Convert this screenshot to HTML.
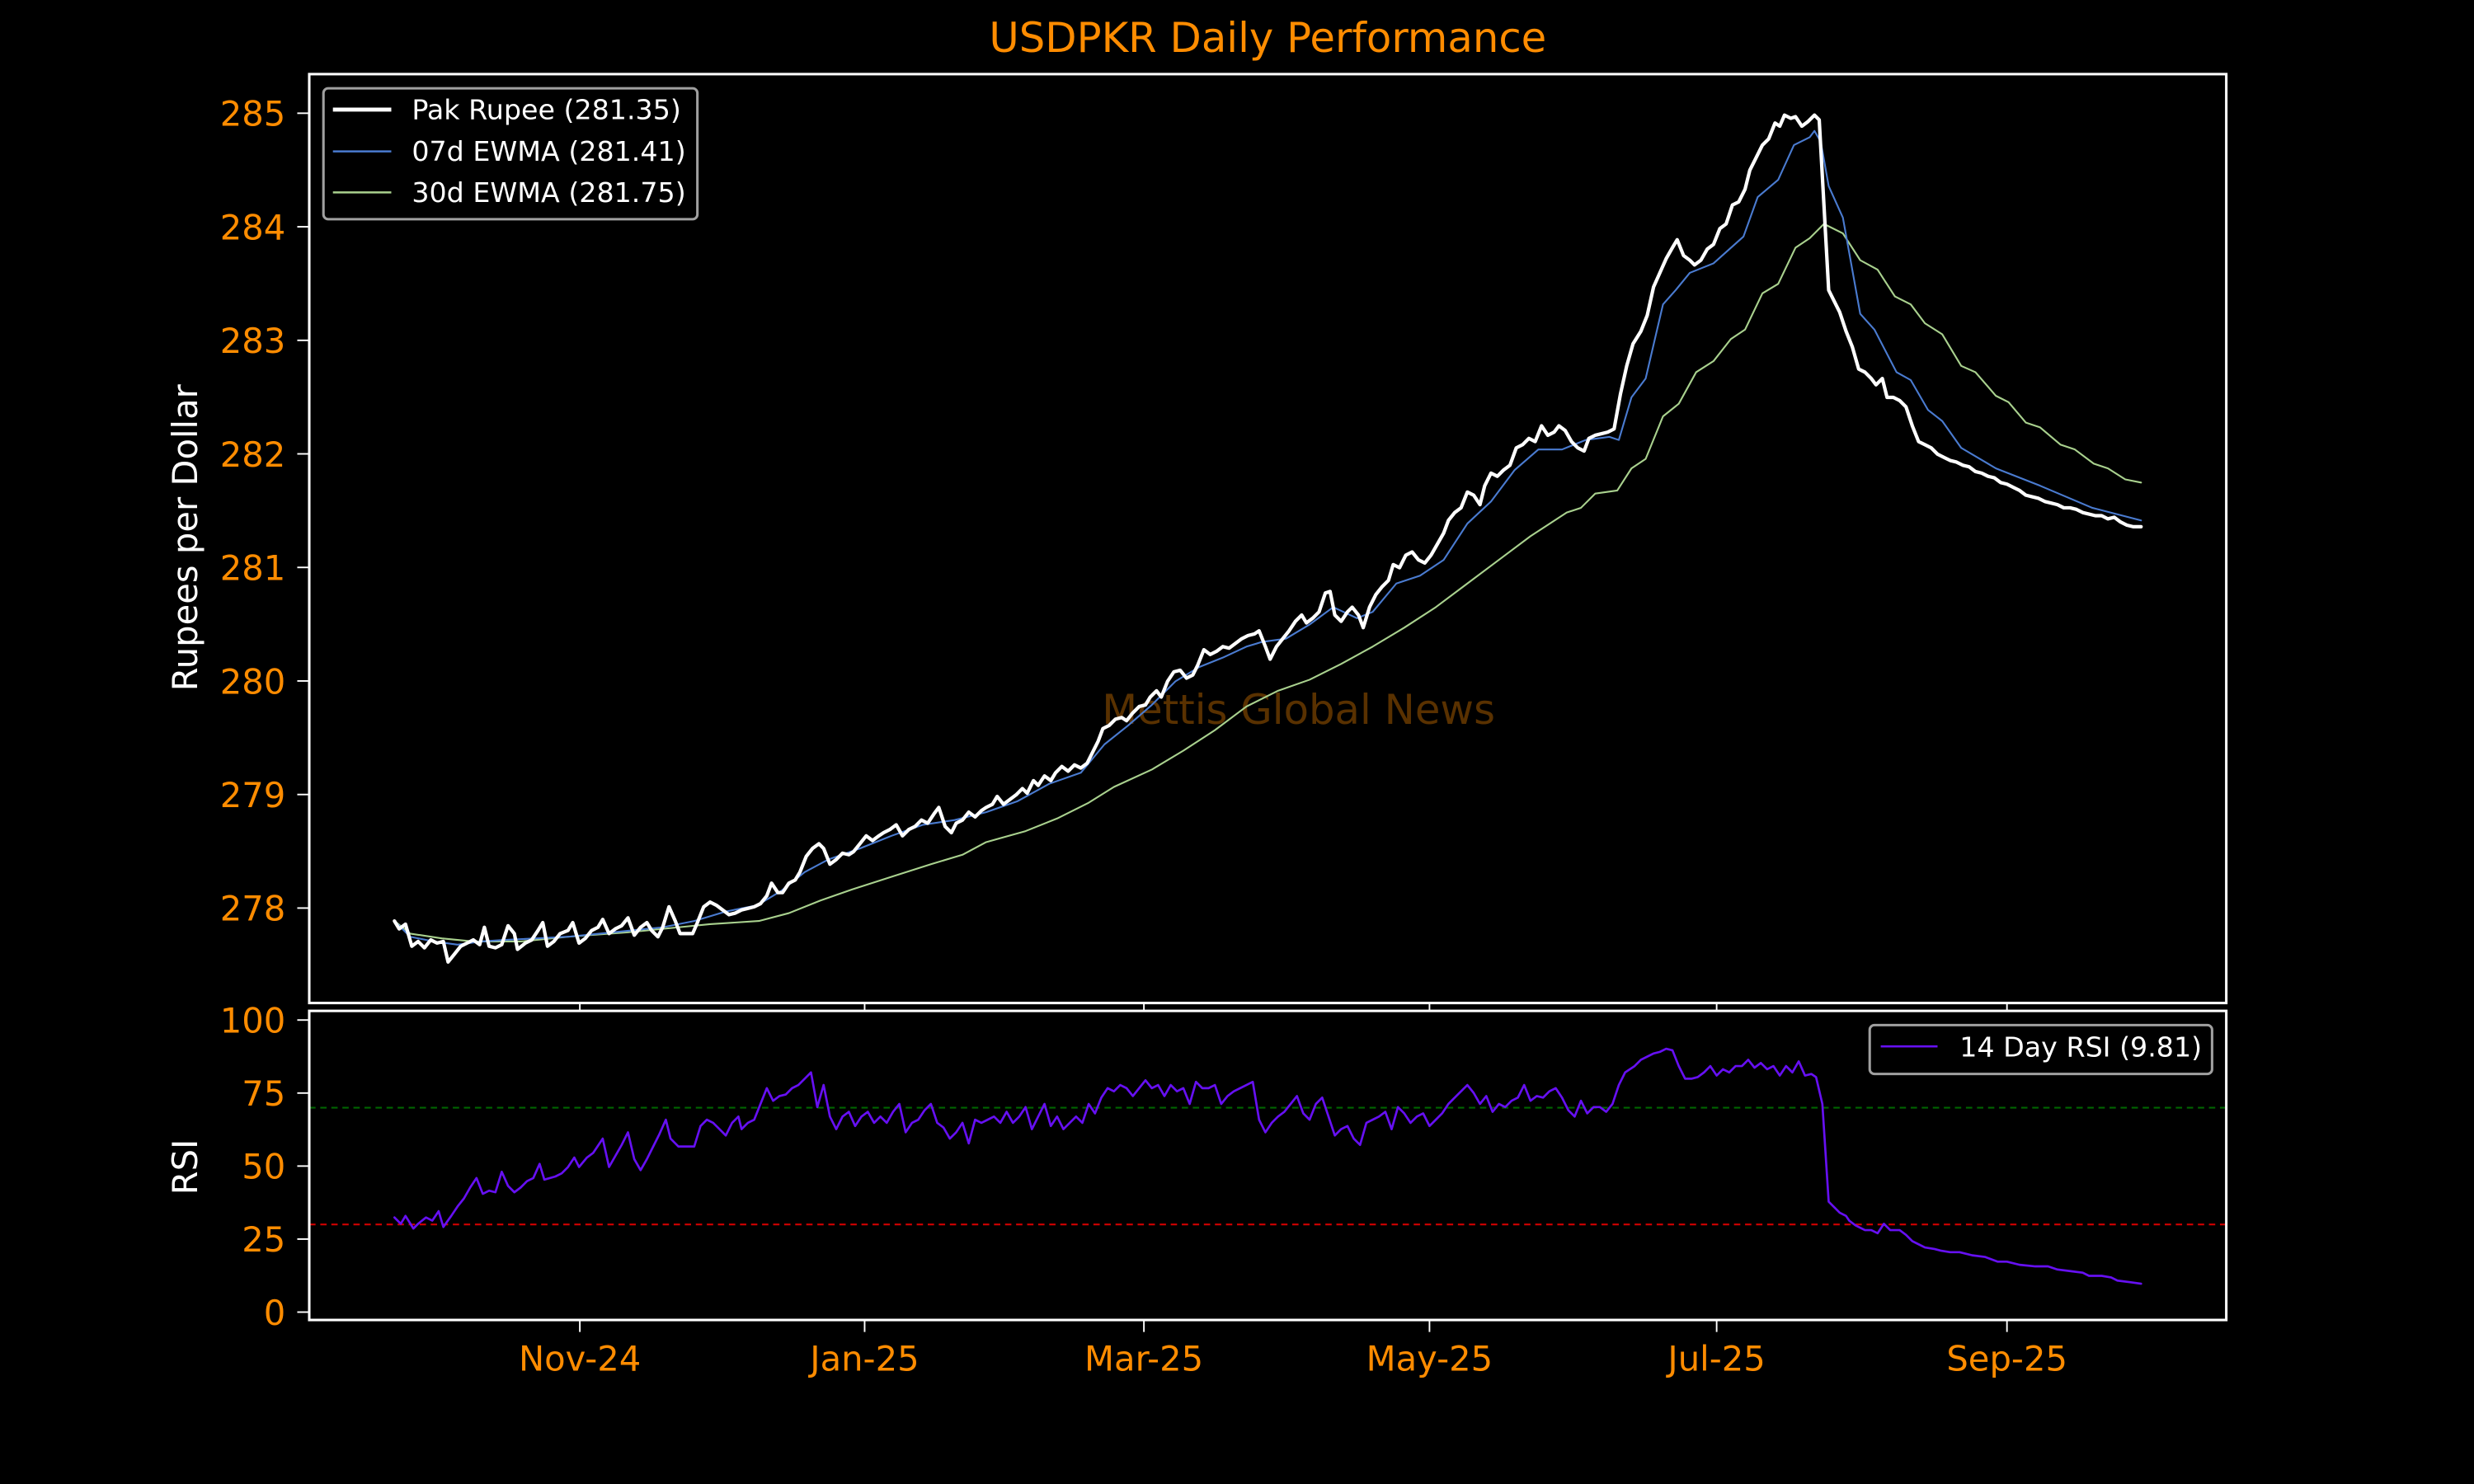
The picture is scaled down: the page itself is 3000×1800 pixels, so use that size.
<!DOCTYPE html>
<html><head><meta charset="utf-8"><style>html,body{margin:0;padding:0;background:#000;}svg{display:block;}</style></head>
<body>
<svg width="3000" height="1800" viewBox="0 0 1568 941" preserveAspectRatio="none" xmlns="http://www.w3.org/2000/svg" font-family="'DejaVu Sans','Liberation Sans',sans-serif">
<rect x="0" y="0" width="1568" height="941" fill="#000"/>
<text x="803.5" y="33" fill="#ff8c00" font-size="26" text-anchor="middle">USDPKR Daily Performance</text>
<text x="823" y="459" fill="#ff8c00" fill-opacity="0.35" font-size="26" text-anchor="middle">Mettis Global News</text>
<g stroke="#fff" stroke-width="1" fill="none">
<line x1="188.4" y1="71.8" x2="196" y2="71.8"/><line x1="188.4" y1="143.8" x2="196" y2="143.8"/><line x1="188.4" y1="215.8" x2="196" y2="215.8"/><line x1="188.4" y1="287.8" x2="196" y2="287.8"/><line x1="188.4" y1="359.8" x2="196" y2="359.8"/><line x1="188.4" y1="431.8" x2="196" y2="431.8"/><line x1="188.4" y1="503.8" x2="196" y2="503.8"/><line x1="188.4" y1="575.8" x2="196" y2="575.8"/>
<line x1="188.4" y1="646.8" x2="196" y2="646.8"/><line x1="188.4" y1="693.1" x2="196" y2="693.1"/><line x1="188.4" y1="739.4" x2="196" y2="739.4"/><line x1="188.4" y1="785.7" x2="196" y2="785.7"/><line x1="188.4" y1="832" x2="196" y2="832"/>
<line x1="367.5" y1="636" x2="367.5" y2="641"/><line x1="548" y1="636" x2="548" y2="641"/><line x1="725" y1="636" x2="725" y2="641"/><line x1="906" y1="636" x2="906" y2="641"/><line x1="1088" y1="636" x2="1088" y2="641"/><line x1="1272" y1="636" x2="1272" y2="641"/>
<line x1="367.5" y1="837" x2="367.5" y2="844.6"/><line x1="548" y1="837" x2="548" y2="844.6"/><line x1="725" y1="837" x2="725" y2="844.6"/><line x1="906" y1="837" x2="906" y2="844.6"/><line x1="1088" y1="837" x2="1088" y2="844.6"/><line x1="1272" y1="837" x2="1272" y2="844.6"/>
</g>
<g fill="#ff8c00" font-size="21.8" text-anchor="end">
<text x="181" y="79.8">285</text><text x="181" y="151.8">284</text><text x="181" y="223.8">283</text><text x="181" y="295.8">282</text><text x="181" y="367.8">281</text><text x="181" y="439.8">280</text><text x="181" y="511.8">279</text><text x="181" y="583.8">278</text>
<text x="181" y="654.8">100</text><text x="181" y="701.1">75</text><text x="181" y="747.4">50</text><text x="181" y="793.7">25</text><text x="181" y="840">0</text>
</g>
<g fill="#ff8c00" font-size="21.8" text-anchor="middle">
<text x="367.5" y="869">Nov-24</text><text x="548" y="869">Jan-25</text><text x="725" y="869">Mar-25</text><text x="906" y="869">May-25</text><text x="1088" y="869">Jul-25</text><text x="1272" y="869">Sep-25</text>
</g>
<text transform="translate(125,341) rotate(-90)" fill="#fff" font-size="21.8" text-anchor="middle">Rupees per Dollar</text>
<text transform="translate(125,740) rotate(-90)" fill="#fff" font-size="21.8" text-anchor="middle">RSI</text>
<line x1="196" y1="702.4" x2="1411" y2="702.4" stroke="#006400" stroke-width="1.1" stroke-dasharray="4,3"/>
<line x1="196" y1="776.4" x2="1411" y2="776.4" stroke="#d00000" stroke-width="1.1" stroke-dasharray="4,3"/>
<g fill="none" stroke-linejoin="round" stroke-linecap="round">
<polyline stroke="#a9d18e" stroke-width="1.1" points="250,584 260,592 280,595 300,597 330,597 360,594 400,591 430,588 450,586 481,584 500,579 520,571 540,564 565,556 590,548 610,542 625,534 650,527 670,519 690,509 706,499 730,488 750,476 770,463 790,448 810,438 830,431 850,421 870,410 890,398 910,385 930,370 950,355 970,340 993,325 1002,322 1011,313 1025,311 1034,297 1043,291 1054,264 1064,256 1075,236 1086,229 1097,215 1106,209 1117,186 1127,180 1138,157 1147,151 1156,142 1168,148 1179,165 1190,171 1201,188 1211,193 1220,205 1231,212 1243,232 1252,236 1265,251 1273,255 1284,268 1293,271 1306,282 1315,285 1327,294 1336,297 1347,304 1357,306"/>
<polyline stroke="#4a7bd0" stroke-width="1.1" points="250,584 260,594 275,597 290,599 305,597 320,596 340,595 360,594 380,592 400,590 420,588 440,584 460,578 480,574 495,565 510,553 525,545 545,538 565,530 585,523 605,520 625,515 645,508 665,497 685,490 700,472 715,460 730,447 745,432 760,423 775,417 790,410 800,407 815,405 830,396 845,385 860,392 870,388 885,370 900,365 915,355 930,332 945,318 960,298 975,285 990,285 1005,279 1020,277 1026,279 1034,252 1043,240 1054,193 1062,184 1071,173 1086,167 1105,150 1114,125 1127,114 1137,92 1147,87 1150,83 1154,90 1159,118 1168,138 1179,199 1188,209 1202,236 1211,241 1222,260 1231,267 1243,284 1265,297 1293,308 1326,322 1357,330"/>
<polyline stroke="#fff" stroke-width="2.2" points="250,584 253,589 257,586 261,600 265,597 269,601 273,596 277,598 281,597 284,610 288,605 292,600 296,598 300,596 304,599 307,588 310,600 314,601 318,599 322,587 326,592 328,602 333,598 337,596 341,590 344,585 347,600 351,597 355,592 360,590 363,585 367,598 371,595 375,590 379,588 382,583 386,592 390,589 394,587 398,582 402,593 406,588 410,585 413,590 417,594 420,588 424,575 428,584 431,592 435,592 439,592 442,585 446,575 450,572 454,574 458,577 462,580 466,579 470,577 474,576 478,575 482,573 486,568 489,560 493,566 496,566 500,560 504,558 507,553 511,543 515,538 519,535 522,538 526,548 530,545 534,541 538,542 541,540 545,535 549,530 553,533 557,530 560,528 564,526 568,523 572,530 576,526 580,524 584,520 588,522 592,516 595,512 599,524 603,528 606,522 610,520 614,515 618,518 622,514 625,512 629,510 632,505 636,510 640,507 644,504 648,500 651,503 655,495 658,498 662,492 666,495 669,490 673,486 677,489 681,485 685,487 689,484 692,478 696,470 699,462 703,460 707,456 711,455 714,457 718,452 722,448 726,447 729,442 733,438 736,442 740,432 744,426 748,425 752,430 756,428 759,422 763,412 767,415 771,413 775,410 779,411 783,408 787,405 791,403 795,402 798,400 802,410 805,418 809,410 813,405 817,400 821,394 825,390 828,395 832,392 836,388 840,376 843,375 846,390 850,394 854,388 857,385 861,390 864,398 868,385 872,377 876,372 880,368 883,358 887,360 891,352 895,350 899,355 903,357 907,352 911,345 915,338 918,330 922,325 926,322 930,312 934,314 938,320 941,308 945,300 949,302 953,298 957,295 961,284 965,282 969,278 973,280 977,270 981,276 985,274 988,270 992,273 996,280 1000,284 1004,286 1007,278 1011,276 1015,275 1019,274 1023,272 1027,250 1031,232 1035,218 1040,210 1044,200 1048,182 1052,173 1056,164 1060,157 1063,152 1067,162 1071,165 1074,168 1078,165 1082,158 1086,155 1090,145 1094,142 1098,130 1102,128 1106,120 1109,108 1113,100 1117,92 1121,88 1125,78 1128,80 1131,73 1135,75 1138,74 1142,80 1146,77 1150,73 1153,76 1156,130 1159,184 1162,190 1166,198 1170,210 1174,220 1178,234 1182,236 1186,240 1189,244 1193,240 1196,252 1200,252 1204,254 1208,258 1212,270 1216,280 1220,282 1224,284 1228,288 1232,290 1236,292 1240,293 1244,295 1248,296 1252,299 1256,300 1260,302 1264,303 1268,306 1272,307 1276,309 1280,311 1284,314 1288,315 1292,316 1296,318 1300,319 1304,320 1308,322 1312,322 1316,323 1320,325 1324,326 1328,327 1332,327 1336,329 1340,328 1344,331 1348,333 1352,334 1357,334"/>
<polyline stroke="#6610f2" stroke-width="1.4" points="250,772 254,776 257,771 262,779 265,776 270,772 274,774 278,768 281,778 286,771 290,765 294,760 298,753 302,747 306,757 310,755 314,756 318,743 322,752 326,756 330,753 334,749 338,747 342,738 345,748 352,746 356,744 360,740 364,734 367,740 372,734 376,731 382,722 386,740 390,733 394,726 398,718 402,735 406,742 410,735 414,727 418,719 422,710 425,722 430,727 440,727 444,714 448,710 452,712 456,716 460,720 464,712 468,708 470,716 474,712 478,710 482,700 486,690 490,698 494,695 498,694 502,690 506,688 510,684 514,680 518,702 522,688 526,708 530,716 534,708 538,705 542,714 546,708 550,705 554,712 558,708 562,712 566,705 570,700 574,718 578,712 582,710 586,704 590,700 594,712 598,715 602,722 606,718 610,712 614,725 618,710 622,712 626,710 630,708 634,712 638,705 642,712 646,708 650,702 654,716 658,708 662,700 666,714 670,708 674,716 678,712 682,708 686,712 690,700 694,706 698,696 702,690 706,692 710,688 714,690 718,695 722,690 726,685 730,690 734,688 738,695 742,688 746,692 750,690 754,700 758,686 762,690 766,690 770,688 774,700 778,695 782,692 786,690 790,688 794,686 798,710 802,718 806,712 810,708 814,705 818,700 822,695 826,706 830,710 834,700 838,696 842,708 846,720 850,716 854,714 858,722 862,726 866,712 870,710 874,708 878,705 882,716 886,702 890,706 894,712 898,708 902,706 906,714 910,710 914,706 918,700 922,696 926,692 930,688 934,693 938,700 942,695 946,705 950,700 954,702 958,698 962,696 966,688 970,698 974,695 978,696 982,692 986,690 990,696 994,704 998,708 1002,698 1006,706 1010,702 1014,702 1018,705 1022,700 1026,688 1030,680 1036,676 1040,672 1044,670 1048,668 1052,667 1056,665 1060,666 1064,676 1068,684 1072,684 1076,683 1080,680 1084,676 1088,682 1092,678 1096,680 1100,676 1104,676 1108,672 1112,677 1116,674 1120,678 1124,676 1128,682 1132,676 1136,680 1140,673 1144,682 1148,681 1151,683 1155,700 1159,762 1162,765 1166,769 1170,771 1172,774 1176,777 1182,780 1186,780 1190,782 1194,776 1198,780 1204,780 1208,783 1212,787 1216,789 1220,791 1226,792 1230,793 1236,794 1242,794 1250,796 1258,797 1266,800 1272,800 1280,802 1290,803 1298,803 1304,805 1312,806 1320,807 1324,809 1328,809 1332,809 1338,810 1342,812 1350,813 1357,814"/>
</g>
<rect x="196" y="47" width="1215" height="589" fill="none" stroke="#fff" stroke-width="1.6"/>
<rect x="196" y="641" width="1215" height="196" fill="none" stroke="#fff" stroke-width="1.6"/>
<rect x="205" y="56" width="237" height="83" rx="3" fill="#000" fill-opacity="0.8" stroke="#a0a0a0" stroke-width="1.6"/>
<line x1="211" y1="69.5" x2="248" y2="69.5" stroke="#fff" stroke-width="2.6"/>
<line x1="211" y1="96" x2="248" y2="96" stroke="#4a7bd0" stroke-width="1.3"/>
<line x1="211" y1="122" x2="248" y2="122" stroke="#a9d18e" stroke-width="1.3"/>
<g fill="#fff" font-size="17.4">
<text x="261" y="75.5">Pak Rupee (281.35)</text>
<text x="261" y="102">07d EWMA (281.41)</text>
<text x="261" y="128">30d EWMA (281.75)</text>
</g>
<rect x="1185" y="650" width="217" height="31" rx="3" fill="#000" fill-opacity="0.8" stroke="#a0a0a0" stroke-width="1.6"/>
<line x1="1192" y1="663.5" x2="1228" y2="663.5" stroke="#6610f2" stroke-width="1.4"/>
<text x="1242" y="670" fill="#fff" font-size="17.4">14 Day RSI (9.81)</text>
</svg>
</body></html>
